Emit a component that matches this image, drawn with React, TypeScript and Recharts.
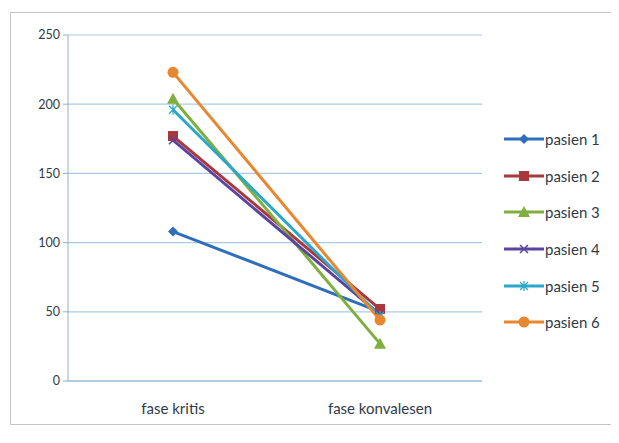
import React from 'react';
import { LineChart, Line, XAxis, YAxis, CartesianGrid } from 'recharts';

const categories = ['fase kritis', 'fase konvalesen'];
const pasien1 = [108, 50];
const pasien2 = [177, 52];
const pasien3 = [204, 27];
const pasien4 = [174, 48];
const pasien5 = [196, 47];
const pasien6 = [223, 44];
const yTicks = [0, 50, 100, 150, 200, 250];

const series = [
  { key: 'pasien 1', values: pasien1, color: '#2F6EBA', shape: 'diamond' },
  { key: 'pasien 2', values: pasien2, color: '#A8383B', shape: 'square' },
  { key: 'pasien 3', values: pasien3, color: '#7FAF3E', shape: 'triangle' },
  { key: 'pasien 4', values: pasien4, color: '#5C45A0', shape: 'cross' },
  { key: 'pasien 5', values: pasien5, color: '#2AA7C9', shape: 'star' },
  { key: 'pasien 6', values: pasien6, color: '#E8872F', shape: 'circle' },
];

const data = categories.map((name, i) => {
  const row: Record<string, string | number> = { name };
  series.forEach((s) => {
    row[s.key] = s.values[i];
  });
  return row;
});

const FONT = 'Lato, "Open Sans", sans-serif';
const TEXT = '#2f3b48';
const AXIS = '#8fb0d2';

const Marker = ({ cx, cy, color, shape }: { cx: number; cy: number; color: string; shape: string }) => {
  switch (shape) {
    case 'diamond':
      return <path d={`M${cx},${cy - 5}L${cx + 5},${cy}L${cx},${cy + 5}L${cx - 5},${cy}Z`} fill={color} />;
    case 'square':
      return <rect x={cx - 5} y={cy - 5} width={10} height={10} fill={color} />;
    case 'triangle':
      return <path d={`M${cx},${cy - 6}L${cx + 6},${cy + 5}L${cx - 6},${cy + 5}Z`} fill={color} />;
    case 'cross':
      return (
        <path d={`M${cx - 4},${cy - 4}L${cx + 4},${cy + 4}M${cx + 4},${cy - 4}L${cx - 4},${cy + 4}`} stroke={color} strokeWidth={1.5} />
      );
    case 'star':
      return (
        <path
          d={`M${cx - 4},${cy - 4}L${cx + 4},${cy + 4}M${cx + 4},${cy - 4}L${cx - 4},${cy + 4}M${cx},${cy - 5}L${cx},${cy + 5}`}
          stroke={color}
          strokeWidth={1.2}
        />
      );
    default:
      return <circle cx={cx} cy={cy} r={5.5} fill={color} />;
  }
};

const ChartLegend = () => (
  <div style={{ position: 'absolute', left: 493, top: 108, fontFamily: FONT, fontSize: 15, color: TEXT }}>
    {series.map((s) => (
      <div key={s.key} style={{ height: 36.6, display: 'flex', alignItems: 'center' }}>
        <svg width={40} height={14}>
          <line x1={0} y1={7} x2={40} y2={7} stroke={s.color} strokeWidth={3} />
          <Marker cx={20} cy={7} color={s.color} shape={s.shape} />
        </svg>
        <span style={{ marginLeft: 1 }}>{s.key}</span>
      </div>
    ))}
  </div>
);

export default function App() {
  return (
    <div
      style={{
        position: 'relative',
        width: 600,
        height: 411,
        marginLeft: 2,
        marginTop: 4,
        border: '1px solid #c4c4c4',
        background: '#fff',
      }}
    >
      <LineChart width={600} height={411} data={data} margin={{ top: 22, right: 129, bottom: 13, left: 0 }}>
        <CartesianGrid horizontal vertical={false} stroke="#a9cbe6" strokeWidth={1.2} />
        <XAxis
          dataKey="name"
          height={30}
          padding={{ left: 105, right: 102 }}
          stroke={AXIS}
          tickLine={false}
          tickMargin={16}
          tick={{ fill: TEXT, fontSize: 15, fontFamily: FONT }}
        />
        <YAxis
          width={57}
          domain={[0, 250]}
          ticks={yTicks}
          stroke={AXIS}
          tickSize={5}
          tickMargin={3}
          tick={{ fill: TEXT, fontSize: 12.5, fontFamily: FONT }}
        />
        {series.map((s) => (
          <Line
            key={s.key}
            dataKey={s.key}
            stroke={s.color}
            strokeWidth={3}
            isAnimationActive={false}
            dot={(p: any) => <Marker key={`${s.key}-${p.index}`} cx={p.cx} cy={p.cy} color={s.color} shape={s.shape} />}
          />
        ))}
      </LineChart>
      <ChartLegend />
    </div>
  );
}
